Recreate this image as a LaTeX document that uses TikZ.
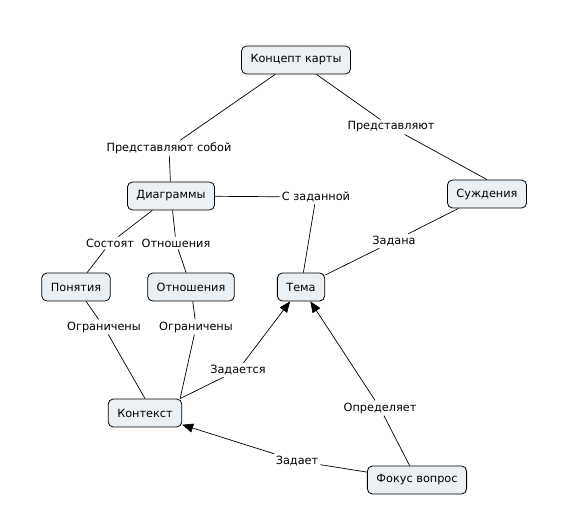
\documentclass[tikz,border=0pt]{standalone}
\usepackage{fontspec}
\setmainfont{DejaVu Sans}
\usetikzlibrary{arrows.meta}
\definecolor{nodefill}{HTML}{EAF0F4}
\begin{document}
\begin{tikzpicture}[x=1pt,y=-1pt,
  concept/.style={draw=black, line width=0.8pt, rounded corners=5pt, fill=nodefill,
    inner xsep=9pt, inner ysep=0pt, minimum height=28pt,
    font=\fontsize{11.3}{13}\selectfont},
  lbl/.style={inner sep=2pt, fill=white, font=\fontsize{11.3}{13}\selectfont},
  link/.style={line width=0.7pt, draw=black},
  arr/.style={link, -{Triangle[length=11pt,width=9pt]}}]
\useasboundingbox[fill=white] (0,0) rectangle (587,532);

% concepts
\node[concept] (kk)    at (296,60)  {Концепт карты};
\node[concept] (diag)  at (171,196) {Диаграммы};
\node[concept] (sud)   at (487,194) {Суждения};
\node[concept] (pon)   at (76,287)  {Понятия};
\node[concept] (otn)   at (191,287) {Отношения};
\node[concept] (tema)  at (301,287) {Тема};
\node[concept] (ctx)   at (145,413) {Контекст};
\node[concept] (focus) at (417,480) {Фокус вопрос};

% linking phrases
\node[lbl] (l1)  at (169,148) {Представляют собой};
\node[lbl] (l2)  at (391,127) {Представляют};
\node[lbl] (l3)  at (316,197) {С заданной};
\node[lbl] (l4)  at (394,241) {Задана};
\node[lbl] (l5)  at (110,243) {Состоят};
\node[lbl] (l6)  at (176,243) {Отношения};
\node[lbl] (l7)  at (104,327) {Ограничены};
\node[lbl] (l8)  at (196,327) {Ограничены};
\node[lbl] (l9)  at (238,370) {Задается};
\node[lbl] (l10) at (380,408) {Определяет};
\node[lbl] (l11) at (297,461) {Задает};

% connectors
\draw[link] (kk) -- (l1);
\draw[link] (l1) -- (diag);
\draw[link] (kk) -- (l2);
\draw[link] (l2) -- (sud.north);
\draw[link] (diag) -- (l3);
\draw[link] (l3) -- (tema);
\draw[link] (sud) -- (l4);
\draw[link] (l4) -- (tema);
\draw[link] (diag) -- (l5);
\draw[link] (l5) -- (pon);
\draw[link] (diag) -- (l6);
\draw[link] (l6) -- (otn);
\draw[link] (pon) -- (l7);
\draw[link] (l7) -- (ctx.north);
\draw[link] (otn) -- (l8);
\draw[link] (l8) -- ([xshift=-2pt]ctx.north east);
\draw[link] ([xshift=-2pt]ctx.north east) -- (l9);
\draw[arr] (l9) -- (tema);
\draw[link] (focus) -- (l10);
\draw[arr] (l10) -- (tema);
\draw[link] (focus) -- (l11);
\draw[arr] (l11) -- (ctx);
\end{tikzpicture}
\end{document}
